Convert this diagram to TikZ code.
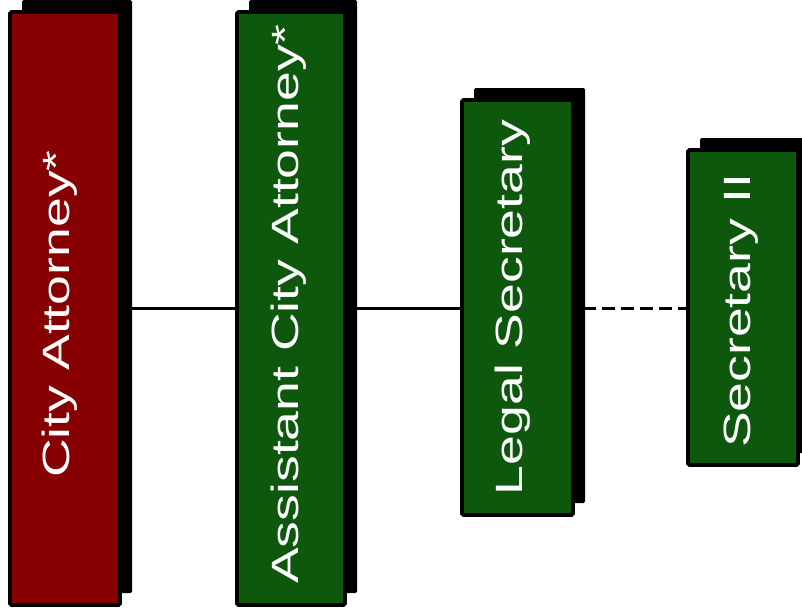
\documentclass[tikz,border=0pt]{standalone}
\usepackage{fontspec}
\setmainfont{Liberation Sans}
\usepackage{graphicx}
\usetikzlibrary{shadows,backgrounds}
\definecolor{boxred}{RGB}{135,0,2}
\definecolor{boxgreen}{RGB}{14,88,14}
\tikzset{
  orgbox/.style={draw=black, line width=3.6pt, rounded corners=1.5pt, inner sep=0pt,
    drop shadow={shadow xshift=12pt, shadow yshift=12pt, fill=black, opacity=1}},
  boxtext/.style={text=white, rotate=90, anchor=base, inner sep=0pt,
    font=\fontsize{38}{40}\selectfont},
  conn/.style={draw=black, line width=3pt},
  dconn/.style={conn, dash pattern=on 13pt off 6pt}
}
\newcommand{\stretchtext}[1]{\scalebox{1.41}[1]{#1}}
\begin{document}
\begin{tikzpicture}[x=1pt, y=-1pt]
\useasboundingbox (0,0) rectangle (802,611);
\node[orgbox, fill=boxred, minimum width=110pt, minimum height=593pt] (ca) at (65,308.5) {};
\node[orgbox, fill=boxgreen, minimum width=108pt, minimum height=593pt] (aca) at (291,308.5) {};
\node[orgbox, fill=boxgreen, minimum width=111pt, minimum height=415pt] (ls) at (517.5,307.5) {};
\node[orgbox, fill=boxgreen, minimum width=110pt, minimum height=315pt] (s2) at (743,307.5) {};
\begin{scope}[on background layer]
\draw[conn] (ca.east |- 0,308) -- (aca.west |- 0,308);
\draw[conn] (aca.east |- 0,308) -- (ls.west |- 0,308);
\draw[dconn] (ls.east |- 0,308) ++(8,0) -- (s2.west |- 0,308);
\end{scope}
\node[boxtext] (ca-t) at (69,314) {\stretchtext{City Attorney*}};
\node[boxtext] (aca-t) at (298,304) {\stretchtext{Assistant City Attorney*}};
\node[boxtext] (ls-t) at (522,307.5) {\stretchtext{Legal Secretary}};
\node[boxtext] (s2-t) at (750,311) {\stretchtext{Secretary II}};
\end{tikzpicture}
\end{document}
